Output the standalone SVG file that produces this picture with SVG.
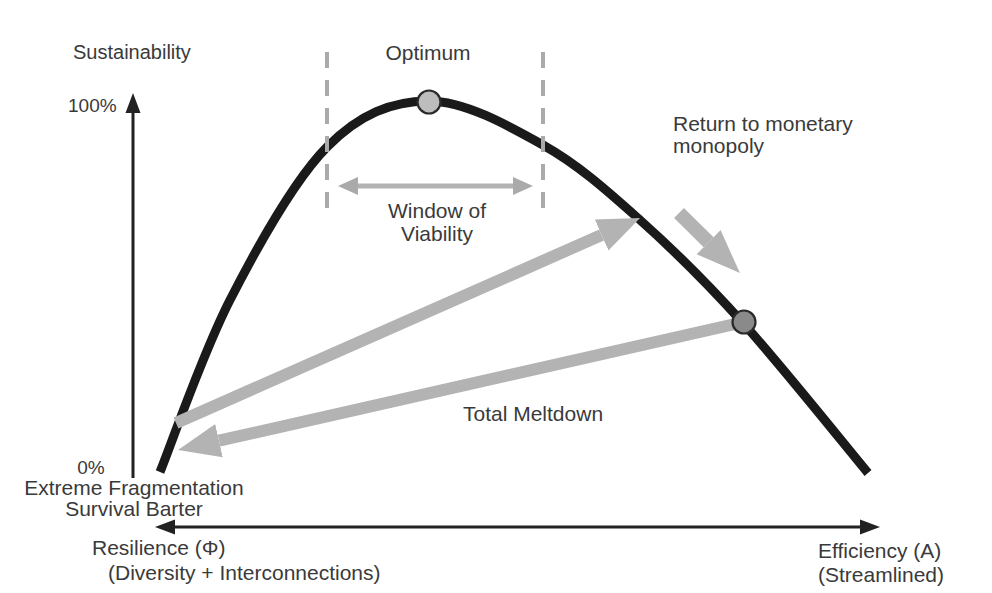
<svg xmlns="http://www.w3.org/2000/svg" width="992" height="593" viewBox="0 0 992 593">
  <style>
    text { font-family: "Liberation Sans", Arial, sans-serif; fill: #3a3a3a; font-size: 21px; }
    .mid { text-anchor: middle; }
    .axis { stroke: #222; stroke-width: 3; fill: none; }
    .gray { stroke: #b3b3b3; fill: none; }
    .dash { stroke: #aaa; stroke-width: 4; stroke-dasharray: 16 12; fill: none; }
  </style>
  <defs>
    <marker id="axHead" markerUnits="userSpaceOnUse" viewBox="0 -8 20 16" refX="0" refY="0" markerWidth="20" markerHeight="16" orient="auto-start-reverse">
      <path d="M0,-7.5 L20,0 L0,7.5 z" fill="#222"/>
    </marker>
    <marker id="winHead" markerUnits="userSpaceOnUse" viewBox="0 -10 20 20" refX="0" refY="0" markerWidth="20" markerHeight="20" orient="auto-start-reverse">
      <path d="M0,-9 L20,0 L0,9 z" fill="#aaa"/>
    </marker>
    <marker id="bigHead" markerUnits="userSpaceOnUse" viewBox="0 -18 44 36" refX="0" refY="0" markerWidth="44" markerHeight="36" orient="auto">
      <path d="M0,-17 L42,0 L0,17 z" fill="#b3b3b3"/>
    </marker>
    <marker id="retHead" markerUnits="userSpaceOnUse" viewBox="0 -18 46 36" refX="0" refY="0" markerWidth="46" markerHeight="36" orient="auto">
      <path d="M0,-17 L44,0 L0,17 z" fill="#b3b3b3"/>
    </marker>
  </defs>
  <rect width="992" height="593" fill="#fff"/>

  <g id="axes">
    <line class="axis" x1="133" y1="478" x2="133" y2="113" marker-end="url(#axHead)"/>
    <line class="axis" x1="175" y1="527" x2="860" y2="527" marker-start="url(#axHead)" marker-end="url(#axHead)"/>
  </g>

  <g id="curve">
    <path d="M160,472 C171.7,443.3 202.2,354.2 230,300 C257.8,245.8 294,180.2 327,147 C360,113.8 392,101.3 428,101 C464,100.7 507.7,125.2 543,145 C578.3,164.8 606.7,190.3 640,220 C673.3,249.7 705,280.8 743,323 C781,365.2 847.2,448 868,473" fill="none" stroke="#1a1a1a" stroke-width="9" stroke-linecap="butt"/>
  </g>

  <g id="window">
    <line class="dash" x1="327" y1="52" x2="327" y2="220"/>
    <line class="dash" x1="543" y1="52" x2="543" y2="220"/>
    <line class="gray" stroke="#aaa" stroke-width="5" x1="358" y1="186" x2="513" y2="186" marker-start="url(#winHead)" marker-end="url(#winHead)"/>
  </g>

  <g id="connectors">
    <line class="gray" stroke-width="12" x1="176" y1="423" x2="601.6" y2="235" marker-end="url(#bigHead)"/>
    <line class="gray" stroke-width="12" x1="744" y1="322" x2="219" y2="440.7" marker-end="url(#bigHead)"/>
    <line class="gray" stroke-width="14" x1="679" y1="213" x2="708.6" y2="242.2" marker-end="url(#retHead)"/>
  </g>

  <g id="optimum">
    <circle cx="429" cy="102" r="11.5" fill="#bdbdbd" stroke="#2a2a2a" stroke-width="2.2"/>
  </g>
  <g id="monopoly-point">
    <circle cx="744" cy="322" r="11.5" fill="#8a8a8a" stroke="#2a2a2a" stroke-width="2.2"/>
  </g>

  <g id="labels">
    <text x="73" y="59" style="font-size:20px">Sustainability</text>
    <text x="68" y="112" style="font-size:19px">100%</text>
    <text x="428" y="60" class="mid">Optimum</text>
    <text x="437" y="218" class="mid">Window of</text>
    <text x="437" y="241" class="mid">Viability</text>
    <text x="673" y="131">Return to monetary</text>
    <text x="673" y="153">monopoly</text>
    <text x="463" y="421">Total Meltdown</text>
    <text x="91" y="474" class="mid" style="font-size:19px">0%</text>
    <text x="134" y="495" class="mid">Extreme Fragmentation</text>
    <text x="134" y="516" class="mid">Survival Barter</text>
    <text x="92" y="555">Resilience (Φ)</text>
    <text x="108" y="580">(Diversity + Interconnections)</text>
    <text x="818" y="558">Efficiency (A)</text>
    <text x="818" y="582">(Streamlined)</text>
  </g>
</svg>
